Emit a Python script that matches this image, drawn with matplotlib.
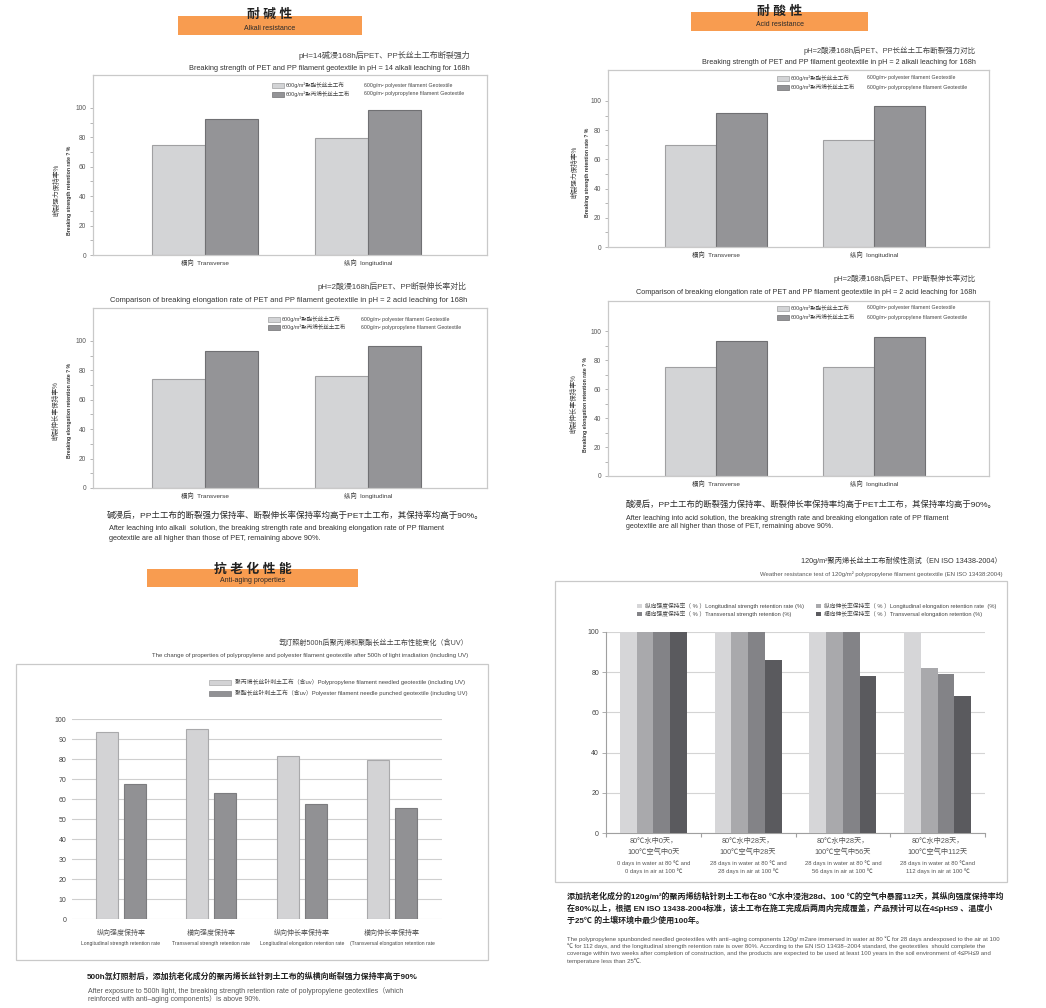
import numpy as np
import matplotlib
matplotlib.use('Agg')
import matplotlib.pyplot as plt
from matplotlib.patches import Rectangle
import matplotlib.transforms as mtrans

plt.rcParams['font.family'] = ['Liberation Sans', 'Noto Sans CJK SC', 'DejaVu Sans']

# ---------------- data ----------------
dir_cats = ['横向  Transverse', '纵向  longitudinal']
geo_series_cn = ['600g/m²聚酯长丝土工布', '600g/m²聚丙烯长丝土工布']
geo_series_en = ['600g/m² polyester filament Geotextile',
                 '600g/m² polypropylene filament Geotextile']

alkali_strength_pet = [74.5, 79.5]
alkali_strength_pp = [92.5, 98.5]
acid_strength_pet = [70, 73.5]
acid_strength_pp = [92, 96.5]
alkali_elong_pet = [74, 76]
alkali_elong_pp = [93.5, 96.5]
acid_elong_pet = [75, 75.5]
acid_elong_pp = [93, 96]

aging_cats_cn = ['纵向强度保持率', '横向强度保持率', '纵向伸长率保持率', '横向伸长率保持率']
aging_cats_en = ['Longitudinal strength retention rate', 'Transversal strength retention rate',
                 'Longitudinal elongation retention rate', '(Transversal elongation retention rate']
aging_series = ['聚丙烯长丝针刺土工布（含uv）Polypropylene filament needled geotextile (including UV)',
                '聚酯长丝针刺土工布（含uv）Polyester filament needle punched geotextile (including UV)']
aging_pp = [93.5, 95, 81.5, 79.5]
aging_pet = [67.5, 63, 57.5, 55.5]

weather_cats_cn1 = ['80℃水中0天，', '80℃水中28天，', '80℃水中28天，', '80℃水中28天，']
weather_cats_cn2 = ['100℃空气中0天', '100℃空气中28天', '100℃空气中56天', '100℃空气中112天']
weather_cats_en1 = ['0 days in water at 80 ℃ and', '28 days in water at 80 ℃ and',
                    '28 days in water at 80 ℃ and', '28 days in water at 80 ℃and']
weather_cats_en2 = ['0 days in air at 100 ℃', '28 days in air at 100 ℃',
                    '56 days in air at 100 ℃', '112 days in air at 100 ℃']
weather_series = ['纵向强度保持率（ % ）Longitudinal strength retention rate (%)',
                  '纵向伸长率保持率（ % ）Longitudinal elongation retention rate  (%)',
                  '横向强度保持率（ % ）Transversal strength retention (%)',
                  '横向伸长率保持率（ % ）Transversal elongation retention (%)']
long_strength = [100, 100, 100, 100]
long_elong = [100, 100, 100, 82]
trans_strength = [100, 100, 100, 79]
trans_elong = [100, 86, 78, 68]

# ---------------- helpers ----------------
W, H = 1046, 1008
fig = plt.figure(figsize=(W / 100, H / 100), dpi=100)
fig.patch.set_facecolor('white')

ORANGE = '#F89C50'
TXT = '#3a3a3a'
GRAY_TXT = '#555555'
BOX = '#c9c9c9'


def ax_px(x0, y0, x1, y1):
    return fig.add_axes([x0 / W, 1 - y1 / H, (x1 - x0) / W, (y1 - y0) / H])


def txt(x, y, s, size, ha='left', va='center', color=TXT, **kw):
    return fig.text(x / W, 1 - y / H, s, fontsize=size, ha=ha, va=va, color=color, **kw)


def rect(x0, y0, x1, y1, fc, ec='none', lw=0.0, z=0):
    fig.patches.append(Rectangle((x0 / W, 1 - y1 / H), (x1 - x0) / W, (y1 - y0) / H,
                                 transform=fig.transFigure, fc=fc, ec=ec, lw=lw, zorder=z))


def header(x0, y0, x1, y1, cn, en, cy_cn, cy_en):
    rect(x0, y0, x1, y1, ORANGE)
    cx = (x0 + x1) / 2
    txt(cx, cy_cn, cn, 9.2, ha='center', color='#222222', fontweight='bold')
    txt(cx, cy_en, en, 5.0, ha='center', color='#2a2a2a')


PET_C, PET_E = '#d3d4d6', '#a0a0a2'
PP_C, PP_E = '#949497', '#707073'


def dir_panel(box, ytop, pet, pp, tcn, ten, tsz, tright, tcy, tey, ylcn, ylen, ylx, ylcy,
              legx, leg_rows, leg_en_x, cat_y):
    x0, y0, x1, y1 = box
    ax = ax_px(x0, y0, x1, y1)
    xs = np.arange(len(dir_cats))
    w = 0.325
    ax.bar(xs - w / 2, pet, w, color=PET_C, edgecolor=PET_E, lw=0.8, zorder=2)
    ax.bar(xs + w / 2, pp, w, color=PP_C, edgecolor=PP_E, lw=0.8, zorder=2)
    ax.set_xlim(-0.685, 1.73)
    ax.set_ylim(0, ytop)
    for s in ax.spines.values():
        s.set_color(BOX)
        s.set_linewidth(0.9)
    ax.set_xticks([])
    ax.set_yticks([0, 20, 40, 60, 80, 100])
    ax.set_yticks([10, 30, 50, 70, 90], minor=True)
    ax.tick_params(axis='y', which='both', direction='out', length=2.5, width=0.5,
                   color='#999999', labelsize=4.8, labelcolor=GRAY_TXT, pad=2.5)
    tr = mtrans.blended_transform_factory(ax.transData, fig.transFigure)
    for xi, c in zip(xs, dir_cats):
        ax.text(xi, 1 - cat_y / H, c, transform=tr, fontsize=4.6, ha='center', va='center',
                color=TXT)
    txt(tright, tcy, tcn, tsz[0], ha='right', color='#444444')
    txt(tright, tey, ten, tsz[1], ha='right', color='#333333')
    fig.text(ylx[0] / W, 1 - ylcy / H, ylcn, rotation=90, fontsize=4.8, ha='center',
             va='center', color='#444444')
    fig.text(ylx[1] / W, 1 - ylcy / H, ylen, rotation=90, fontsize=3.7, ha='center',
             va='center', color='#333333', fontweight='bold')
    for (fc, ec), ry, scn, sen in zip([(PET_C, PET_E), (PP_C, PP_E)], leg_rows,
                                      geo_series_cn, geo_series_en):
        rect(legx, ry - 2.5, legx + 12, ry + 2.5, fc, ec=ec, lw=0.5, z=5)
        txt(legx + 14, ry, scn, 4.0, color='#444444')
        txt(leg_en_x, ry, sen, 3.8, color='#444444')
    return ax


# ---------------- headers ----------------
header(178, 16, 362, 35, '耐 碱 性', 'Alkali resistance', 15, 29)
header(691, 12, 868, 31, '耐 酸 性', 'Acid resistance', 12, 25)
header(147, 569, 358, 587, '抗 老 化 性 能', 'Anti-aging properties', 570, 581)

# ---------------- four direction panels ----------------
dir_panel((93, 75, 487, 255), 122.4, alkali_strength_pet, alkali_strength_pp,
          'pH=14碱浸168h后PET、PP长丝土工布断裂强力',
          'Breaking strength of PET and PP filament geotextile in pH = 14 alkali leaching for 168h',
          (5.8, 5.35), 470, 55, 68, '断裂强力保持率%', 'Breaking strength retention rate ? %', (57, 69), 190,
          272, (85, 94), 364, 263)

dir_panel((608, 70, 989, 247), 121.2, acid_strength_pet, acid_strength_pp,
          'pH=2酸浸168h后PET、PP长丝土工布断裂强力对比',
          'Breaking strength of PET and PP filament geotextile in pH = 2 alkali leaching for 168h',
          (5.4, 5.2), 976, 51, 62, '断裂强力保持率%', 'Breaking strength retention rate ? %', (575, 587), 172,
          777, (78, 87), 867, 255)

dir_panel((93, 308, 487, 488), 122.4, alkali_elong_pet, alkali_elong_pp,
          'pH=2酸浸168h后PET、PP断裂伸长率对比',
          'Comparison of breaking elongation rate of PET and PP filament geotextile in pH = 2 acid leaching for 168h',
          (5.7, 5.4), 467, 286, 300, '断裂伸长率保持率%', 'Breaking elongation retention rate ? %', (56, 69), 411,
          268, (319, 327), 361, 496)

dir_panel((608, 301, 989, 476), 120.7, acid_elong_pet, acid_elong_pp,
          'pH=2酸浸168h后PET、PP断裂伸长率对比',
          'Comparison of breaking elongation rate of PET and PP filament geotextile in pH = 2 acid leaching for 168h',
          (5.45, 5.2), 976, 279, 292, '断裂伸长率保持率%', 'Breaking elongation retention rate ? %', (574, 586), 404,
          777, (308, 317), 867, 484)

# ---------------- paragraphs under top charts ----------------
txt(107, 516, '碱浸后，PP土工布的断裂强力保持率、断裂伸长率保持率均高于PET土工布，其保持率均高于90%。', 6.1,
    color='#2a2a2a')
txt(109, 529, 'After leaching into alkali  solution, the breaking strength rate and breaking elongation rate of PP filament',
    5.3, color='#333333')
txt(109, 538, 'geotextile are all higher than those of PET, remaining above 90%.', 5.3, color='#333333')

txt(626, 505, '酸浸后，PP土工布的断裂强力保持率、断裂伸长率保持率均高于PET土工布，其保持率均高于90%。', 6.0,
    color='#2a2a2a')
txt(626, 518, 'After leaching into acid solution, the breaking strength rate and breaking elongation rate of PP filament',
    5.1, color='#333333')
txt(626, 527, 'geotextile are all higher than those of PET, remaining above 90%.', 5.1, color='#333333')

# ---------------- anti-aging panel ----------------
rect(16, 664, 488, 960, 'none', ec=BOX, lw=0.9)
txt(468, 643, '氙灯照射500h后聚丙烯和聚酯长丝土工布性能变化（含UV）', 5.1, ha='right', color='#444444')
txt(468, 655, 'The change of properties of polypropylene and polyester filament geotextile after 500h of light irradiation (including UV)',
    4.35, ha='right', color='#444444')
A_L, A_D, A_LE, A_DE = '#d3d3d5', '#919194', '#a9a9ab', '#7c7c7f'
for (fc, ec), ry, s in zip([(A_L, A_LE), (A_D, A_DE)], (682, 693), aging_series):
    rect(209, ry - 2.5, 231, ry + 2.5, fc, ec=ec, lw=0.5, z=5)
    txt(235, ry, s, 4.2, color='#444444')

ax5 = ax_px(72, 719, 442, 919)
xa = np.arange(len(aging_cats_cn))
wa = 0.24
ax5.bar(xa - 0.155, aging_pp, wa, color=A_L, edgecolor=A_LE, lw=0.8, zorder=3)
ax5.bar(xa + 0.155, aging_pet, wa, color=A_D, edgecolor=A_DE, lw=0.8, zorder=3)
ax5.set_xlim(-0.54, 3.55)
ax5.set_ylim(0, 100)
ax5.set_yticks(np.arange(0, 101, 10))
ax5.yaxis.grid(True, color='#cfcfcf', lw=0.8, zorder=0)
ax5.set_axisbelow(True)
for s in ax5.spines.values():
    s.set_visible(False)
ax5.set_xticks([])
ax5.tick_params(axis='y', length=0, labelsize=5.0, labelcolor='#444444', pad=4)
tr5 = mtrans.blended_transform_factory(ax5.transData, fig.transFigure)
for xi, c1, c2 in zip(xa, aging_cats_cn, aging_cats_en):
    ax5.text(xi, 1 - 933 / H, c1, transform=tr5, fontsize=5.0, ha='center', va='center', color='#555555')
    ax5.text(xi, 1 - 943 / H, c2, transform=tr5, fontsize=3.6, ha='center', va='center', color='#444444')

txt(87, 977, '500h氙灯照射后，添加抗老化成分的聚丙烯长丝针刺土工布的纵横向断裂强力保持率高于90%', 5.75,
    color='#1f1f1f', fontweight='bold')
txt(88, 991, 'After exposure to 500h light, the breaking strength retention rate of polypropylene geotextiles（which',
    5.0, color='#555555')
txt(88, 999, 'reinforced with anti–aging components）is above 90%.', 5.0, color='#555555')

# ---------------- weather resistance panel ----------------
rect(555, 581, 1007, 882, 'none', ec=BOX, lw=0.9)
txt(1002, 561, '120g/m²聚丙烯长丝土工布耐候性测试（EN ISO 13438-2004）', 5.2, ha='right', color='#333333')
txt(1003, 574, 'Weather resistance test of 120g/m² polypropylene filament geotextile (EN ISO 13438:2004)',
    4.35, ha='right', color='#555555')
WC = ['#d6d6d8', '#a9a9ac', '#838387', '#5a5a5e']
leg_pos = [(637, 606), (816, 606), (637, 614), (816, 614)]
for (lx, ly), c, s in zip(leg_pos, WC, weather_series):
    rect(lx, ly - 2.3, lx + 5, ly + 2.3, c, z=5)
    txt(lx + 8, ly, s, 4.15, color='#444444')

ax6 = ax_px(606, 632, 985, 833)
xw = np.arange(len(weather_cats_cn1))
ww = 0.177
for i, (vals, c) in enumerate(zip([long_strength, long_elong, trans_strength, trans_elong], WC)):
    ax6.bar(xw + (i - 1.5) * ww, vals, ww, color=c, lw=0, zorder=3)
ax6.set_xlim(-0.5, 3.5)
ax6.set_ylim(0, 100)
ax6.set_yticks(np.arange(0, 101, 20))
ax6.yaxis.grid(True, color='#d4d4d4', lw=0.8, zorder=0)
ax6.set_axisbelow(True)
for k in ['top', 'right']:
    ax6.spines[k].set_visible(False)
for k in ['left', 'bottom']:
    ax6.spines[k].set_color('#a0a0a0')
    ax6.spines[k].set_linewidth(0.8)
ax6.set_xticks([-0.5, 0.5, 1.5, 2.5, 3.5])
ax6.set_xticklabels([])
ax6.tick_params(axis='x', length=3, width=0.8, color='#a0a0a0')
ax6.tick_params(axis='y', length=3, width=0.6, color='#a0a0a0', labelsize=5.0,
                labelcolor='#444444', pad=2)
tr6 = mtrans.blended_transform_factory(ax6.transData, fig.transFigure)
for xi, a, b, c, d in zip(xw, weather_cats_cn1, weather_cats_cn2, weather_cats_en1, weather_cats_en2):
    ax6.text(xi, 1 - 841 / H, a, transform=tr6, fontsize=5.2, ha='center', va='center', color='#555555')
    ax6.text(xi, 1 - 852 / H, b, transform=tr6, fontsize=5.2, ha='center', va='center', color='#555555')
    ax6.text(xi, 1 - 863 / H, c, transform=tr6, fontsize=4.2, ha='center', va='center', color='#555555')
    ax6.text(xi, 1 - 871 / H, d, transform=tr6, fontsize=4.2, ha='center', va='center', color='#555555')

para_cn = ['添加抗老化成分的120g/m²的聚丙烯纺粘针刺土工布在80 ℃水中浸泡28d、100 ℃的空气中暴露112天，其纵向强度保持率均',
           '在80%以上，根据 EN ISO 13438-2004标准，该土工布在施工完成后两周内完成覆盖，产品预计可以在4≤pH≤9 、温度小',
           '于25℃ 的土壤环境中最少使用100年。']
for i, s in enumerate(para_cn):
    txt(567, 896 + i * 12.5, s, 5.75, color='#1f1f1f', fontweight='bold')
para_en = ['The polypropylene spunbonded needled geotextiles with anti–aging components 120g/ m2are immersed in water at 80 ℃ for 28 days andexposed to the air at 100',
           '℃ for 112 days, and the longitudinal strength retention rate is over 80%. According to the EN ISO 13438–2004 standard, the geotextiles  should complete the',
           'coverage within two weeks after completion of construction, and the products are expected to be used at least 100 years in the soil environment of 4≤PH≤9 and',
           'temperature less than 25℃.']
for i, s in enumerate(para_en):
    txt(567, 938.5 + i * 7.4, s, 4.3, color='#555555')

fig.savefig('out.png', dpi=100, facecolor='white')
